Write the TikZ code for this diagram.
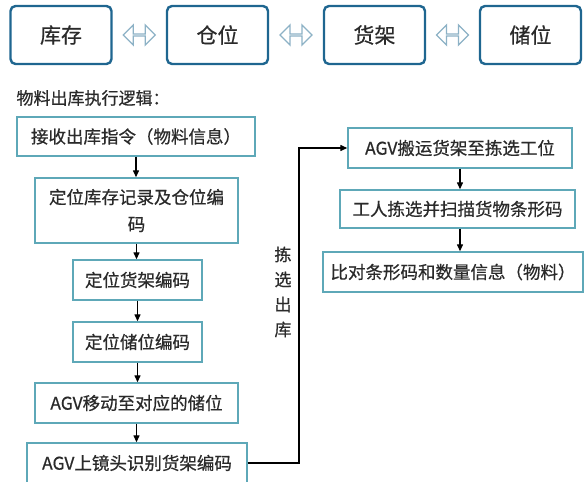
\documentclass[tikz,border=0pt]{standalone}
\usepackage{fontspec}
\newfontfamily\cjk[FakeBold=0.6]{Noto Sans CJK SC}
\usetikzlibrary{arrows.meta,shapes.arrows,calc}

\definecolor{topblue}{HTML}{1F6690}
\definecolor{stepteal}{HTML}{5EA8B8}
\definecolor{dblgray}{HTML}{8DB2C6}
\definecolor{txtgray}{HTML}{2A2A2A}

\begin{document}
\begin{tikzpicture}[x=1pt, y=-1pt, >={Triangle[length=7pt,width=6pt]},
    font=\cjk, text=txtgray,
    topbox/.style={draw=topblue, line width=2.4pt, rounded corners=5pt,
        minimum width=101pt, minimum height=58pt, inner sep=0pt,
        font=\cjk\fontsize{21}{24}\selectfont},
    stepbox/.style={draw=stepteal, line width=1.4pt, fill=white,
        minimum height=39pt, inner sep=0pt,
        font=\cjk\fontsize{17.5}{27}\selectfont, align=center},
    dblarrow/.style={double arrow, draw=dblgray, line width=1.4pt, fill=white,
        minimum height=32pt, minimum width=20pt, inner sep=0pt,
        double arrow head extend=6pt},
    flow/.style={->, line width=1.3pt, black}]

\useasboundingbox (0,0) rectangle (584,482);

% Top row
\node[topbox] (kc) at (61,35) {库存};
\node[topbox] (cw) at (217.5,35) {仓位};
\node[topbox] (hj) at (374.5,35) {货架};
\node[topbox] (cu) at (530.5,35) {储位};

\node[dblarrow] (d1) at ($(kc.east)!0.5!(cw.west)$) {};
\node[dblarrow] (d2) at ($(cw.east)!0.5!(hj.west)$) {};
\node[dblarrow] (d3) at ($(hj.east)!0.5!(cu.west)$) {};

% Title
\node[anchor=west, font=\cjk\fontsize{17}{20}\selectfont] (title) at (13,98) {物料出库执行逻辑：};

% Left column
\node[stepbox, minimum width=238pt] (s1) at (136,136.5) {接收出库指令（物料信息）};
\node[stepbox, minimum width=203pt, minimum height=65pt] (s2) at (136.5,210.5) {定位库存记录及仓位编\\码};
\node[stepbox, minimum width=129pt, minimum height=40pt] (s3) at (137.5,280) {定位货架编码};
\node[stepbox, minimum width=129pt, minimum height=40pt] (s4) at (137.5,342) {定位储位编码};
\node[stepbox, minimum width=203pt, minimum height=40pt] (s5) at (136.5,403) {AGV移动至对应的储位};
\node[stepbox, minimum width=220pt, minimum height=40pt] (s6) at (137,463) {AGV上镜头识别货架编码};

% Right column
\node[stepbox, minimum width=224pt, minimum height=40pt] (r1) at (460,148) {AGV搬运货架至拣选工位};
\node[stepbox, minimum width=235pt, minimum height=38pt] (r2) at (457.5,209) {工人拣选并扫描货物条形码};
\node[stepbox, minimum width=260pt, minimum height=40pt] (r3) at (453,272) {比对条形码和数量信息（物料）};

% Arrows
\foreach \a/\b in {s1/s2,s2/s3,s3/s4,s4/s5,s5/s6}
    \draw[flow] (\a.south) -- (\a.south |- \b.north);
\draw[flow] (r1.south) -- (r1.south |- r2.north);
\draw[flow] (r2.south -| r1.south) -- (r1.south |- r3.north);

% Pick-out connector
\coordinate (turn) at (299,300);
\draw[flow] (s6.east) -- (s6.east -| turn) |- (r1.west);
\node[font=\cjk\fontsize{17}{25}\selectfont, align=center, inner sep=0pt] (pick) at (283,292) {拣\\选\\出\\库};

\end{tikzpicture}
\end{document}
